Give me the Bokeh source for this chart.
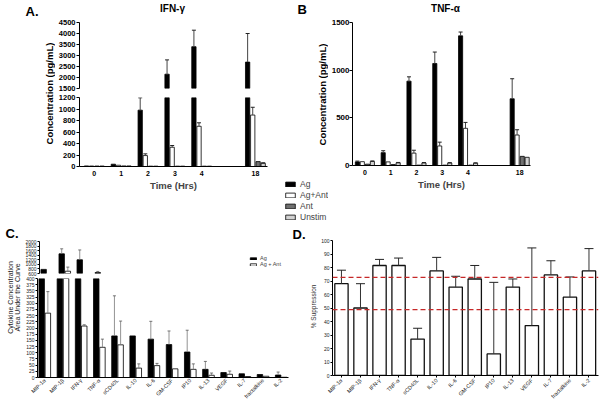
import math
from bokeh.plotting import figure
from bokeh.models import (Range1d, FixedTicker, Label, Legend, LegendItem,
                          ColumnDataSource, Span)
from bokeh.layouts import column, row
from bokeh.embed import file_html
from bokeh.resources import INLINE
from bokeh.core.properties import value

FONT = "Liberation Sans"

# ---------------- data ----------------
time_labels = ["0", "1", "2", "3", "4", "18"]
time_slots = [0, 1, 2, 3, 4, 6]          # category slot of each time point (gap before 18 h)
conditions = ["Ag", "Ag+Ant", "Ant", "Unstim"]
cond_colors = ["#000000", "#ffffff", "#707070", "#d2d2d2"]

ifng_ag = [10, 40, 980, 2150, 3400, 2700]
ifng_ag_err = [0, 0, 215, 650, 750, 1300]
ifng_agant = [8, 22, 190, 335, 700, 895]
ifng_agant_err = [0, 0, 30, 30, 60, 135]
ifng_ant = [8, 10, 6, 6, 6, 85]
ifng_ant_err = [0, 0, 0, 0, 0, 0]
ifng_unstim = [8, 10, 6, 6, 6, 55]
ifng_unstim_err = [0, 0, 0, 0, 0, 10]
ifng_upper_ticks = [1500, 2000, 2500, 3000, 3500, 4000, 4500]
ifng_lower_ticks = [0, 200, 400, 600, 800, 1000, 1200]

tnf_ag = [38, 135, 885, 1070, 1360, 700]
tnf_ag_err = [8, 20, 45, 120, 40, 210]
tnf_agant = [40, 38, 130, 205, 390, 320]
tnf_agant_err = [0, 0, 30, 40, 62, 55]
tnf_ant = [14, 10, 4, 4, 4, 96]
tnf_ant_err = [0, 0, 0, 0, 0, 0]
tnf_unstim = [42, 28, 27, 26, 24, 86]
tnf_unstim_err = [6, 4, 4, 4, 4, 0]
tnf_ticks = [0, 500, 1000, 1500]

cytokines = ["MIP-1\u03b1", "MIP-1\u03b2", "IFN-\u03b3", "TNF-\u03b1", "sCD40L", "IL-10",
             "IL-6", "GM-CSF", "IP10", "IL-13", "VEGF", "IL-7", "fractalkine", "IL-2"]
auc_ag = [780, 1460, 1200, 640, 168, 168, 155, 133, 103, 33, 20, 15, 12, 10]
auc_ag_err = [0, 220, 430, 50, 162, 0, 72, 55, 88, 32, 0, 0, 0, 12]
auc_agant = [260, 700, 208, 122, 132, 38, 48, 35, 33, 9, 13, 4, 5, 1]
auc_agant_err = [87, 180, 5, 33, 96, 17, 9, 0, 22, 9, 13, 0, 0, 0]
auc_upper_ticks = [600, 800, 1000, 1200, 1400, 1600, 1800, 2000]
auc_lower_ticks = list(range(0, 401, 25))

suppression = [68, 50, 81.5, 81.5, 27, 77.5, 65.5, 71.5, 16, 65.5, 37, 74.5, 58, 77.5]
suppression_err = [10, 18, 4.5, 5.5, 8, 10, 8, 10, 53, 6, 57.5, 10.5, 15, 16.5]
suppression_ticks = list(range(0, 101, 10))
threshold_lines = [72.7, 48.8]


# ---------------- helpers ----------------
def make_fig(w, h, xr, yr, bl, br, bt, bb, **kw):
    p = figure(width=w, height=h, x_range=Range1d(*xr), y_range=Range1d(*yr),
               output_backend="svg", toolbar_location=None,
               min_border_left=bl, min_border_right=br,
               min_border_top=bt, min_border_bottom=bb, **kw)
    try:
        p.frame_align = False          # keep each figure's own borders in the layout
    except AttributeError:
        pass
    p.outline_line_color = None
    p.grid.visible = False
    p.background_fill_color = "white"
    p.border_fill_color = "white"
    return p


def text_fig(w, h):
    """A figure whose frame is its whole canvas: data units are pixels."""
    return make_fig(w, h, (0, w), (0, h), 0, 0, 0, 0,
                    x_axis_location=None, y_axis_location=None)


class Frame:
    """Maps page pixel positions to the data coordinates of a figure's frame."""
    def __init__(self, p, left, right, top, bottom):
        self.p, self.l, self.r, self.t, self.b = p, left, right, top, bottom

    def x(self, px):
        xr = self.p.x_range
        return xr.start + (px - self.l) * (xr.end - xr.start) / (self.r - self.l)

    def y(self, py):
        yr = self.p.y_range
        return yr.start + (self.b - py) * (yr.end - yr.start) / (self.b - self.t)

    def label(self, px, py, text, size, bold=False, angle=0.0, align="left",
              baseline="middle", color="#000000"):
        self.p.add_layout(Label(x=self.x(px), y=self.y(py), text=text,
                                text_font=FONT, text_font_size=size,
                                text_font_style="bold" if bold else "normal",
                                angle=angle, text_align=align,
                                text_baseline=baseline, text_color=color))


def style_axis(ax, size, bold=False, tick_out=3, standoff=2, color="#000000"):
    ax.major_label_text_font = FONT
    ax.major_label_text_font_size = size
    ax.major_label_text_font_style = "bold" if bold else "normal"
    ax.major_label_text_color = color
    ax.major_tick_out = tick_out
    ax.major_tick_in = 0
    ax.minor_tick_line_color = None
    ax.axis_line_color = "#000000"
    ax.major_tick_line_color = "#000000"
    ax.major_label_standoff = standoff
    ax.axis_label_text_font = FONT


def visible_idx(p, lo_vals, hi_vals):
    y0, y1 = p.y_range.start, p.y_range.end
    return [i for i, (lo, hi) in enumerate(zip(lo_vals, hi_vals)) if hi > y0 and lo < y1]


def bars(p, xs, vals, width, fill, line="#000000", lw=0.8):
    idx = visible_idx(p, [0] * len(vals), vals)
    src = ColumnDataSource(dict(x=[xs[i] for i in idx], top=[vals[i] for i in idx]))
    return p.vbar(x="x", top="top", bottom=0, width=width, source=src,
                  fill_color=fill, line_color=line, line_width=lw)


def error_bars(p, xs, vals, errs, cap, line_color="#444444", cap_color="#222222", lw=1.0):
    his = [v + e for v, e in zip(vals, errs)]
    idx = [i for i in visible_idx(p, vals, his) if errs[i] > 0]
    if not idx:
        return
    src = ColumnDataSource(dict(x=[xs[i] for i in idx], lo=[vals[i] for i in idx],
                                hi=[his[i] for i in idx]))
    p.segment(x0="x", y0="lo", x1="x", y1="hi", source=src, line_color=line_color, line_width=lw)
    cap_idx = [i for i in idx if his[i] <= p.y_range.end]
    if cap_idx:
        csrc = ColumnDataSource(dict(x=[xs[i] for i in cap_idx], hi=[his[i] for i in cap_idx]))
        p.scatter(x="x", y="hi", marker="dash", size=cap, source=csrc,
                  line_color=cap_color, line_width=lw)


def time_bars(p, series, errs, offsets, width, cap):
    for k in range(len(series)):
        xs = [s + offsets[k] for s in time_slots]
        bars(p, xs, series[k], width, cond_colors[k])
        error_bars(p, xs, series[k], errs[k], cap)


def time_xaxis(p):
    style_axis(p.xaxis[0], "7px", bold=True, tick_out=0, standoff=4)
    p.xaxis.ticker = FixedTicker(ticks=time_slots)
    p.xaxis.major_label_overrides = time_overrides
    p.xaxis.axis_label = "Time (Hrs)"
    p.xaxis.axis_label_text_font_size = "9.5px"
    p.xaxis.axis_label_text_font_style = "bold"
    p.xaxis.axis_label_standoff = 1


time_offsets = [-0.29, -0.10, 0.10, 0.29]
time_bar_w = 0.16
time_overrides = {s: t for s, t in zip(time_slots, time_labels)}

# ---------------- panel A (IFN-gamma, broken axis) ----------------
labA = text_fig(55, 224)
fl = Frame(labA, 0, 55, 0, 224)
fl.label(25, 11, "A.", "13px", bold=True)
fl.label(48.5, 93, "Concentration (pg/mL)", "9.5px", bold=True, angle=math.pi / 2,
         align="center")

stripA = text_fig(227, 16)
Frame(stripA, 55, 282, 0, 16).label(172, 8, "IFN-\u03b3", "10px", bold=True, align="center")

A_top = make_fig(227, 77, (-0.55, 6.45), (1500, 4500), 22, 15, 6, 5, x_axis_location=None)
A_bot = make_fig(227, 131, (-0.55, 6.45), (0, 1200), 22, 15, 4, 58)
ifng_series = [ifng_ag, ifng_agant, ifng_ant, ifng_unstim]
ifng_errs = [ifng_ag_err, ifng_agant_err, ifng_ant_err, ifng_unstim_err]
for p in (A_top, A_bot):
    time_bars(p, ifng_series, ifng_errs, time_offsets, time_bar_w, 4)
    style_axis(p.yaxis[0], "7.5px", bold=True, tick_out=3, standoff=1)
A_top.yaxis.ticker = FixedTicker(ticks=ifng_upper_ticks)
A_bot.yaxis.ticker = FixedTicker(ticks=ifng_lower_ticks)
time_xaxis(A_bot)

# ---------------- panel B (TNF-alpha) ----------------
stripB = text_fig(318, 16)
fsb = Frame(stripB, 282, 600, 0, 16)
fsb.label(297, 9, "B", "13px", bold=True)
fsb.label(445, 8, "TNF-\u03b1", "10px", bold=True, align="center")

labB = text_fig(46, 208)
flb = Frame(labB, 282, 328, 16, 224)
flb.label(321.5, 94, "Concentration (pg/mL)", "9.5px", bold=True, angle=math.pi / 2,
          align="center")
nan = float("nan")
swatches = [labB.vbar(x=[nan], top=[nan], width=0.1, fill_color=c, line_color="#000000",
                      line_width=0.8) for c in cond_colors]
legB = Legend(items=[LegendItem(label=value(c), renderers=[r]) for c, r in zip(conditions, swatches)],
              location=(2, 2), glyph_width=12, glyph_height=6, label_height=10,
              label_text_font=FONT, label_text_font_size="8.5px", label_standoff=4,
              spacing=1, padding=0, margin=0, border_line_color=None,
              background_fill_alpha=0)
labB.add_layout(legB, "center")

B = make_fig(272, 208, (-0.48, 6.42), (0, 1500), 21, 70, 6, 59)
tnf_series = [tnf_ag, tnf_agant, tnf_ant, tnf_unstim]
tnf_errs = [tnf_ag_err, tnf_agant_err, tnf_ant_err, tnf_unstim_err]
time_bars(B, tnf_series, tnf_errs, time_offsets, 0.16, 4)
style_axis(B.yaxis[0], "8px", bold=True, tick_out=3, standoff=0)
B.yaxis.ticker = FixedTicker(ticks=tnf_ticks)
time_xaxis(B)

# ---------------- panel C (AUC, broken axis) ----------------
labC = text_fig(22, 180)
fc = Frame(labC, 0, 22, 224, 404)
fc.label(5, 233, "C.", "13px", bold=True)
fc.label(9.5, 296, "Cytokine  Concentration", "7px", angle=math.pi / 2, align="center",
         color="#222222")
fc.label(16.5, 296, "Area Under the  Curve", "7px", angle=math.pi / 2, align="center",
         color="#222222")

C_top = make_fig(268, 52, (-0.4, 13.4), (600, 2000), 15, 2, 17, 3, x_axis_location=None)
C_bot = make_fig(268, 128, (-0.4, 13.4), (0, 400), 15, 2, 2, 23)
cat_idx = list(range(len(cytokines)))
xs_ag = [i - 0.17 for i in cat_idx]
xs_agant = [i + 0.17 for i in cat_idx]
c_rends = []
for p in (C_top, C_bot):
    r1 = bars(p, xs_ag, auc_ag, 0.3, "#000000")
    r2 = bars(p, xs_agant, auc_agant, 0.3, "#ffffff")
    error_bars(p, xs_ag, auc_ag, auc_ag_err, 3, line_color="#777777", cap_color="#555555", lw=0.8)
    error_bars(p, xs_agant, auc_agant, auc_agant_err, 3, line_color="#777777",
               cap_color="#555555", lw=0.8)
    style_axis(p.yaxis[0], "5px", tick_out=2, standoff=1, color="#222222")
    c_rends.append((r1, r2))
C_top.yaxis.ticker = FixedTicker(ticks=auc_upper_ticks)
C_bot.yaxis.ticker = FixedTicker(ticks=auc_lower_ticks)
style_axis(C_bot.xaxis[0], "5.5px", tick_out=0, standoff=2, color="#222222")
C_bot.xaxis.ticker = FixedTicker(ticks=cat_idx)
C_bot.xaxis.major_label_overrides = {i: n for i, n in zip(cat_idx, cytokines)}
C_bot.xaxis.major_label_orientation = math.pi / 4
legC = Legend(items=[LegendItem(label=value("Ag"), renderers=[c_rends[0][0]]),
                     LegendItem(label=value("Ag + Ant"), renderers=[c_rends[0][1]])],
              location=(210, 6), glyph_width=8, glyph_height=3, label_height=5,
              label_text_font=FONT, label_text_font_size="5.5px", label_standoff=3,
              spacing=0, padding=0, margin=0, border_line_color=None,
              background_fill_alpha=0)
C_top.add_layout(legC, "center")

# ---------------- panel D (% suppression) ----------------
labD = text_fig(28, 180)
fdl = Frame(labD, 290, 318, 224, 404)
fdl.label(292, 234, "D.", "13px", bold=True)
fdl.label(313, 306, "% Suppression", "6.5px", angle=math.pi / 2, align="center",
          color="#333333")

D = make_fig(282, 180, (-0.47, 13.5), (0, 100), 12, 2, 16, 27)
bars(D, cat_idx, suppression, 0.7, "#ffffff", line="#111111", lw=1.3)
error_bars(D, cat_idx, suppression, suppression_err, 9, line_color="#333333",
           cap_color="#222222", lw=1.0)
for t in threshold_lines:
    D.add_layout(Span(location=t, dimension="width", line_color="#c62828",
                      line_dash="5 3", line_width=1.4))
style_axis(D.yaxis[0], "5px", tick_out=2, standoff=1, color="#222222")
D.yaxis.ticker = FixedTicker(ticks=suppression_ticks)
style_axis(D.xaxis[0], "5.5px", tick_out=2, standoff=2, color="#222222")
D.xaxis.ticker = FixedTicker(ticks=cat_idx)
D.xaxis.major_label_overrides = {i: n for i, n in zip(cat_idx, cytokines)}
D.xaxis.major_label_orientation = math.pi / 4

layout = column(
    row(labA, column(stripA, A_top, A_bot), column(stripB, row(labB, B))),
    row(labC, column(C_top, C_bot), labD, D),
)

open("out.html", "w").write(file_html(layout, INLINE))
